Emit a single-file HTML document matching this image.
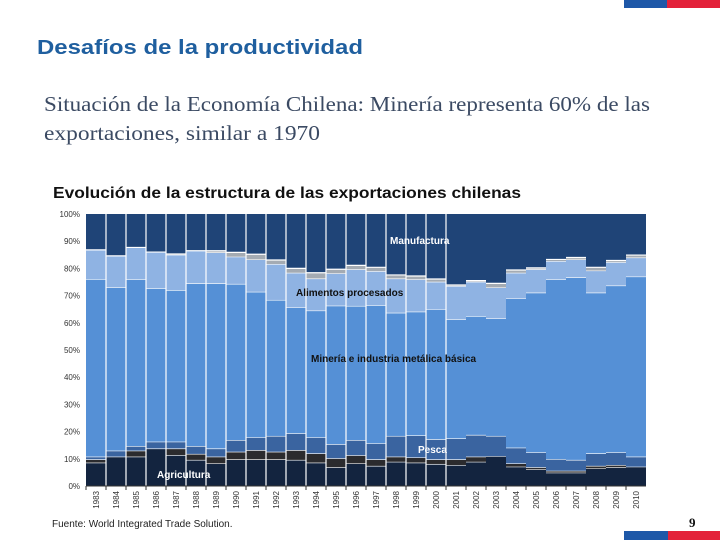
<!DOCTYPE html>
<html><head><meta charset="utf-8"><style>
html,body{margin:0;padding:0;background:#fff;}
svg{display:block;}
</style></head><body>
<svg id="root" width="720" height="540" viewBox="0 0 720 540" xmlns="http://www.w3.org/2000/svg">
<rect x="624" y="0" width="43" height="8" fill="#1e58a8"/>
<rect x="667" y="0" width="53" height="8" fill="#e3223a"/>
<rect x="624" y="531" width="44" height="9" fill="#1e58a8"/>
<rect x="668" y="531" width="52" height="9" fill="#e3223a"/>
<text x="37" y="54" font-family="Liberation Sans, sans-serif" font-weight="bold" font-size="20" fill="#1f5f9f" textLength="326" lengthAdjust="spacingAndGlyphs">Desafíos de la productividad</text>
<text x="44" y="111" font-family="Liberation Serif, serif" font-size="21" fill="#3b4a63" textLength="606" lengthAdjust="spacingAndGlyphs">Situación de la Economía Chilena: Minería representa 60% de las</text>
<text x="44" y="140" font-family="Liberation Serif, serif" font-size="21" fill="#3b4a63" textLength="276" lengthAdjust="spacingAndGlyphs">exportaciones, similar a 1970</text>
<text x="53" y="198" font-family="Liberation Sans, sans-serif" font-weight="bold" font-size="16" fill="#111" textLength="468" lengthAdjust="spacingAndGlyphs">Evolución de la estructura de las exportaciones chilenas</text>
<g id="chart"></g>
<text x="52" y="527" font-family="Liberation Sans, sans-serif" font-size="10" fill="#222">Fuente: World Integrated Trade Solution.</text>
<text x="689" y="527" font-family="Liberation Serif, serif" font-weight="bold" font-size="13" fill="#111">9</text>
</svg>
<script>
const years = [1983,1984,1985,1986,1987,1988,1989,1990,1991,1992,1993,1994,1995,1996,1997,1998,1999,2000,2001,2002,2003,2004,2005,2006,2007,2008,2009,2010];
const agricultura = [8.6,10.8,10.8,13.8,11.4,9.6,8.3,9.8,9.8,9.8,9.6,8.6,6.9,8.3,7.4,8.9,8.6,8.1,7.7,8.9,11.0,7.1,6.1,4.9,4.9,6.5,6.9,7.1];
const otros = [1.2,0,2.2,0,2.4,2.2,2.5,2.8,3.4,2.8,3.6,3.4,3.3,3.0,2.4,1.9,1.9,1.7,2.1,1.9,0,1.2,0.8,0.7,0.7,0.9,0.8,0];
const pesca = [1.0,2.2,1.7,2.5,2.5,2.9,3.0,4.3,4.7,5.8,6.2,5.9,5.2,5.6,5.9,7.6,8.1,7.4,7.7,8.0,7.4,5.8,5.5,4.3,4.0,4.6,4.7,3.7];
const mineria = [65.3,60.0,61.3,56.4,55.7,59.8,60.7,57.4,53.5,50.0,46.3,46.6,50.9,49.3,50.8,45.3,45.5,47.8,43.8,43.7,43.2,54.9,58.7,66.1,67.1,59.1,61.3,66.2];
const alimentos = [10.7,11.6,11.7,13.3,13.0,12.0,11.4,10.0,11.9,13.2,12.7,11.8,11.9,13.5,12.5,12.6,11.9,10.1,12.2,12.6,11.4,9.4,8.6,6.7,6.6,8.1,8.6,7.0];
const otrosAlim = [0,0,0,0,0.3,0,0.6,1.6,1.9,1.5,1.6,2.1,1.5,1.4,1.4,1.3,1.2,1.0,0.4,0.4,1.5,1.0,0.5,0.6,0.7,1.2,0.6,0.9];
const yTicks = [0,10,20,30,40,50,60,70,80,90,100];

const series = [
  {name:'agricultura', vals:agricultura, color:'#13243f'},
  {name:'otros', vals:otros, color:'#2b2b2e'},
  {name:'pesca', vals:pesca, color:'#3a64a0'},
  {name:'mineria', vals:mineria, color:'#5590d6'},
  {name:'alimentos', vals:alimentos, color:'#8fb3e3'},
  {name:'otros-alimentos', vals:otrosAlim, color:'#a4abb3'}
];
const NS='http://www.w3.org/2000/svg';
const g=document.getElementById('chart');
const X0=86, X1=646, Y0=486, Y1=214;
const bw=(X1-X0)/years.length;
const xs=i=>X0+i*bw;
const ys=v=>Y0-(v/100)*(Y0-Y1);
function mk(tag,attrs){const e=document.createElementNS(NS,tag);for(const k in attrs)e.setAttribute(k,attrs[k]);g.appendChild(e);return e;}
const bg=mk('rect',{x:X0,y:Y1,width:X1-X0,height:Y0-Y1,fill:'#1f4477'});


years.forEach((yr,i)=>{
  let cum=0;
  series.forEach(s=>{
    const v=s.vals[i];
    if(v<=0){return;}
    const r=mk('rect',{x:xs(i),y:ys(cum+v),width:bw,height:ys(cum)-ys(cum+v),fill:s.color});
    
    
    cum+=v;
    if(cum<99){
      const l=mk('line',{x1:xs(i),x2:xs(i)+bw,y1:ys(cum),y2:ys(cum),stroke:'#fff','stroke-width':1.2});
      
      
    }
  });
  if(yr<=2001 && i>0){
    const vl=mk('line',{x1:xs(i),x2:xs(i),y1:Y1,y2:Y0,stroke:'#fff','stroke-width':1.2});
    
    
  }
  const tx=xs(i)+bw/2+3;
  const t=mk('text',{x:tx,y:491,transform:`rotate(-90 ${tx} 491)`,'text-anchor':'end','font-family':'Liberation Sans, sans-serif','font-size':8,fill:'#333'});
  t.textContent=yr;
  
  
  const tk=mk('line',{x1:xs(i),x2:xs(i),y1:Y0,y2:Y0+4,stroke:'#333'});
  
  
});
const ax=mk('line',{x1:X0,x2:X1,y1:Y0,y2:Y0,stroke:'#333'});


yTicks.forEach(v=>{
  const t=mk('text',{x:80,y:ys(v)+3,'text-anchor':'end','font-family':'Liberation Sans, sans-serif','font-size':8,fill:'#333'});
  t.textContent=v+'%';
  
  
});
const labels=[['Manufactura',390,244,'#fff'],['Alimentos procesados',296,296,'#111'],['Minería e industria metálica básica',311,362,'#111'],['Pesca',418,453,'#fff'],['Agricultura',157,478,'#fff']];
labels.forEach(l=>{
  const t=mk('text',{x:l[1],y:l[2],'font-family':'Liberation Sans, sans-serif','font-size':10,'font-weight':'bold',fill:l[3]});
  t.textContent=l[0];
  
  
});
</script>
</body></html>
